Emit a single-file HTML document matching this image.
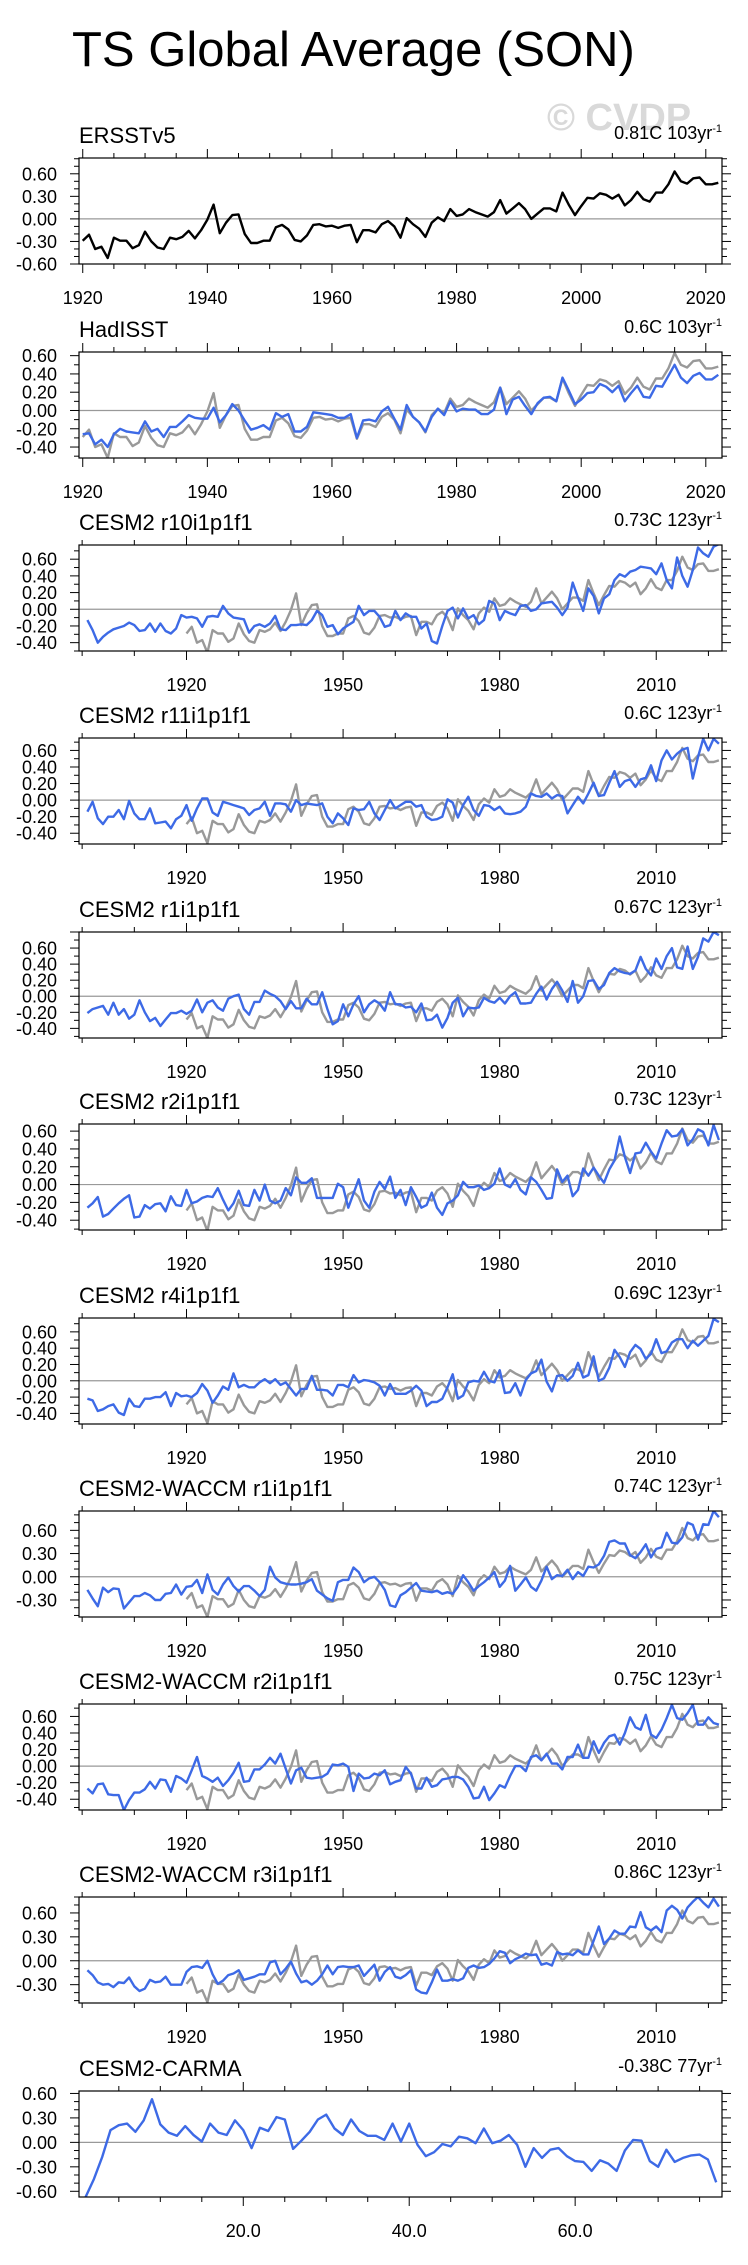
<!DOCTYPE html>
<html><head><meta charset="utf-8"><title>TS Global Average (SON)</title>
<style>html,body{margin:0;padding:0;background:#fff}svg{display:block}text{font-family:"Liberation Sans",Arial,sans-serif}</style>
</head><body>
<svg id="chart" xmlns="http://www.w3.org/2000/svg" width="748" height="2265" viewBox="0 0 748 2265">
<rect x="0" y="0" width="748" height="2265" fill="#fff"/>
<text x="72" y="66" font-size="49" fill="#000">TS Global Average (SON)</text>
<text x="547" y="130" font-size="38" font-weight="bold" fill="#d9d9d9">© CVDP</text>
</svg>
<script>
const ersst = [-0.29,-0.21,-0.40,-0.37,-0.52,-0.25,-0.29,-0.29,-0.39,-0.35,
-0.17,-0.30,-0.38,-0.40,-0.25,-0.27,-0.24,-0.16,-0.26,-0.15,
-0.01,0.19,-0.19,-0.05,0.05,0.06,-0.20,-0.32,-0.32,-0.29,
-0.29,-0.11,-0.08,-0.14,-0.28,-0.30,-0.22,-0.08,-0.07,-0.10,
-0.09,-0.12,-0.09,-0.08,-0.31,-0.15,-0.15,-0.18,-0.07,-0.03,
-0.10,-0.25,0.01,-0.07,-0.13,-0.24,-0.05,0.02,-0.03,0.13,
0.04,0.06,0.13,0.09,0.06,0.03,0.09,0.25,0.07,0.14,
0.21,0.13,0.00,0.07,0.14,0.14,0.10,0.35,0.19,0.05,
0.17,0.28,0.27,0.34,0.32,0.27,0.32,0.18,0.25,0.36,
0.26,0.23,0.35,0.35,0.46,0.63,0.50,0.47,0.54,0.55,
0.46,0.46,0.48];
const hadisst = [-0.26,-0.25,-0.37,-0.32,-0.40,-0.26,-0.20,-0.23,-0.24,-0.25,
-0.12,-0.23,-0.20,-0.29,-0.18,-0.18,-0.12,-0.05,-0.08,-0.09,
-0.09,0.03,-0.13,-0.05,0.07,0.00,-0.11,-0.21,-0.19,-0.16,
-0.21,-0.03,-0.07,-0.04,-0.23,-0.23,-0.18,-0.02,-0.03,-0.04,
-0.05,-0.08,-0.08,-0.04,-0.30,-0.11,-0.10,-0.12,-0.01,0.04,
-0.09,-0.21,0.06,-0.07,-0.13,-0.23,-0.07,0.02,-0.05,0.10,
-0.01,0.02,0.01,0.01,-0.04,-0.04,0.01,0.25,-0.04,0.12,
0.15,0.05,-0.04,0.08,0.14,0.15,0.10,0.36,0.22,0.07,
0.12,0.19,0.20,0.29,0.26,0.20,0.27,0.10,0.19,0.27,
0.15,0.14,0.27,0.26,0.38,0.50,0.36,0.30,0.38,0.41,
0.34,0.34,0.39];
const cesmR10 = [-0.13,-0.25,-0.40,-0.33,-0.28,-0.24,-0.22,-0.20,-0.16,-0.19,
-0.26,-0.25,-0.17,-0.27,-0.17,-0.26,-0.29,-0.23,-0.07,-0.10,
-0.09,-0.11,-0.21,-0.09,-0.08,-0.09,0.04,-0.05,-0.10,-0.11,
-0.12,-0.28,-0.20,-0.18,-0.21,-0.17,-0.08,-0.24,-0.25,-0.19,
-0.19,-0.18,-0.19,-0.13,-0.02,-0.07,-0.21,-0.19,-0.30,-0.23,
-0.19,-0.15,0.04,-0.07,-0.02,-0.02,-0.09,-0.21,-0.19,-0.02,
-0.13,-0.05,-0.09,-0.09,-0.23,-0.17,-0.38,-0.41,-0.20,-0.02,
0.02,-0.11,0.01,-0.11,-0.07,-0.18,-0.13,0.10,0.07,-0.13,
-0.02,-0.05,-0.07,0.04,0.05,-0.02,0.00,0.07,0.08,0.09,
0.02,-0.07,0.02,0.32,0.14,-0.02,0.25,0.16,-0.05,0.13,
0.18,0.35,0.42,0.39,0.45,0.47,0.51,0.50,0.49,0.42,
0.55,0.35,0.25,0.62,0.40,0.27,0.47,0.74,0.67,0.63,
0.75,0.78];
const cesmR11 = [-0.14,-0.02,-0.22,-0.29,-0.20,-0.20,-0.12,-0.23,-0.01,-0.16,
-0.23,-0.23,-0.10,-0.28,-0.27,-0.26,-0.34,-0.23,-0.19,-0.06,
-0.25,-0.10,0.02,0.02,-0.15,-0.19,-0.02,-0.04,-0.06,-0.08,
-0.10,-0.18,-0.12,-0.10,-0.02,-0.19,-0.04,-0.04,-0.05,-0.14,
0.00,-0.06,-0.04,-0.05,-0.06,-0.04,-0.20,-0.28,-0.16,-0.22,
-0.30,-0.10,-0.12,-0.11,-0.02,-0.16,-0.24,-0.12,0.00,-0.10,
-0.06,-0.02,-0.02,-0.08,-0.06,-0.20,-0.24,-0.23,-0.20,0.01,
-0.03,-0.21,-0.06,0.04,-0.12,-0.19,-0.06,-0.07,-0.12,-0.08,
-0.16,-0.17,-0.16,-0.14,-0.08,0.08,0.05,0.04,0.08,0.02,
0.06,0.05,-0.16,-0.06,0.04,-0.04,0.08,0.21,0.05,0.06,
0.21,0.35,0.16,0.23,0.25,0.16,0.25,0.27,0.42,0.23,
0.48,0.60,0.49,0.56,0.61,0.63,0.26,0.52,0.74,0.60,
0.74,0.68];
const cesmR1 = [-0.21,-0.16,-0.14,-0.12,-0.23,-0.08,-0.23,-0.16,-0.28,-0.23,
-0.05,-0.20,-0.31,-0.27,-0.37,-0.29,-0.21,-0.21,-0.18,-0.22,
-0.18,-0.04,-0.20,-0.08,-0.05,-0.14,-0.18,-0.03,0.00,0.02,
-0.16,-0.23,-0.07,-0.07,0.07,0.03,0.00,-0.06,-0.16,-0.06,
-0.15,-0.15,-0.03,-0.10,-0.10,0.05,-0.16,-0.35,-0.31,-0.10,
-0.25,-0.10,0.00,-0.20,-0.10,-0.05,-0.09,-0.18,0.05,-0.10,
-0.10,-0.14,-0.13,-0.20,-0.09,-0.30,-0.29,-0.23,-0.39,-0.27,
-0.08,-0.02,-0.25,-0.14,-0.15,-0.14,-0.02,-0.06,-0.08,-0.02,
-0.09,0.00,0.05,-0.09,-0.09,-0.08,0.03,0.12,-0.04,0.09,
0.18,0.07,-0.07,0.19,-0.08,0.00,0.19,0.20,0.09,0.14,
0.29,0.35,0.31,0.29,0.28,0.32,0.49,0.34,0.26,0.47,
0.34,0.50,0.60,0.36,0.34,0.62,0.34,0.49,0.72,0.68,
0.80,0.76];
const cesmR2 = [-0.26,-0.21,-0.14,-0.36,-0.33,-0.27,-0.21,-0.16,-0.12,-0.37,
-0.36,-0.23,-0.27,-0.22,-0.21,-0.30,-0.13,-0.23,-0.24,-0.06,
-0.21,-0.19,-0.15,-0.13,-0.14,-0.04,-0.17,-0.29,-0.21,-0.07,
-0.23,-0.24,-0.06,-0.18,0.00,-0.18,-0.21,-0.18,-0.04,-0.12,
0.08,0.02,0.02,0.07,-0.15,-0.15,-0.15,-0.15,0.01,-0.03,
-0.26,-0.10,0.06,-0.18,-0.26,-0.08,0.03,-0.05,0.09,-0.15,
-0.06,-0.23,-0.03,-0.14,-0.26,-0.23,-0.09,-0.26,-0.34,-0.21,
-0.18,-0.12,0.03,-0.03,-0.03,-0.01,-0.06,-0.04,0.01,0.18,
0.00,-0.03,0.06,-0.06,-0.11,0.08,0.03,-0.06,-0.16,-0.15,
0.17,0.03,0.10,-0.13,-0.06,0.18,0.10,0.19,0.10,0.02,
0.17,0.27,0.54,0.31,0.13,0.35,0.36,0.47,0.37,0.29,
0.46,0.61,0.54,0.55,0.62,0.44,0.51,0.62,0.59,0.44,
0.67,0.50];
const cesmR4 = [-0.22,-0.24,-0.37,-0.35,-0.31,-0.29,-0.39,-0.42,-0.22,-0.31,
-0.32,-0.22,-0.22,-0.20,-0.20,-0.14,-0.31,-0.15,-0.19,-0.18,
-0.20,-0.15,-0.04,-0.12,-0.27,-0.18,-0.07,-0.11,0.09,-0.08,
-0.05,-0.08,-0.08,-0.02,0.02,-0.03,0.02,-0.05,-0.02,-0.10,
-0.18,-0.10,-0.10,0.06,-0.11,-0.11,-0.12,-0.18,-0.05,-0.05,
-0.08,0.07,-0.02,0.01,0.00,-0.02,-0.06,-0.18,-0.04,-0.16,
-0.16,-0.16,-0.12,-0.06,-0.12,-0.31,-0.26,-0.26,-0.22,-0.08,
0.08,-0.22,-0.18,-0.02,0.00,-0.01,0.11,0.00,-0.02,0.13,
-0.15,-0.14,-0.03,-0.18,0.01,0.09,0.12,0.26,-0.01,-0.13,
0.06,0.07,0.00,0.06,0.22,0.04,0.07,0.30,0.00,0.03,
0.16,0.38,0.29,0.17,0.35,0.44,0.39,0.27,0.33,0.51,
0.34,0.36,0.47,0.51,0.51,0.40,0.49,0.43,0.49,0.55,
0.76,0.72];
const waccmR1 = [-0.17,-0.28,-0.38,-0.14,-0.20,-0.15,-0.16,-0.41,-0.33,-0.25,
-0.25,-0.21,-0.24,-0.30,-0.30,-0.22,-0.21,-0.10,-0.23,-0.13,
-0.12,-0.04,-0.21,0.03,-0.17,-0.23,-0.10,-0.01,-0.12,-0.19,
-0.12,-0.12,-0.18,-0.25,-0.17,0.13,-0.01,-0.07,-0.09,-0.10,
-0.10,-0.09,-0.07,-0.03,-0.18,-0.23,-0.28,-0.31,-0.07,-0.04,
-0.04,0.12,0.06,-0.07,-0.02,0.00,-0.07,-0.17,-0.37,-0.39,
-0.24,-0.20,-0.14,-0.08,-0.18,-0.19,-0.20,-0.18,-0.22,-0.20,
-0.22,-0.13,0.02,-0.07,-0.18,-0.12,-0.07,-0.01,0.06,-0.13,
-0.05,0.14,-0.18,-0.10,-0.01,-0.13,-0.18,-0.05,0.13,-0.03,
0.02,0.01,0.09,-0.03,0.06,0.01,0.13,0.12,0.16,0.27,
0.45,0.47,0.43,0.43,0.28,0.24,0.32,0.42,0.25,0.36,
0.38,0.57,0.44,0.43,0.51,0.70,0.67,0.48,0.68,0.67,
0.85,0.77];
const waccmR2 = [-0.27,-0.33,-0.22,-0.21,-0.34,-0.35,-0.35,-0.53,-0.41,-0.32,
-0.32,-0.28,-0.19,-0.27,-0.16,-0.17,-0.31,-0.12,-0.15,-0.20,
-0.05,0.11,-0.12,-0.15,-0.19,-0.14,-0.24,-0.17,-0.08,0.04,
-0.19,-0.18,-0.04,-0.04,0.02,0.10,0.03,0.15,-0.03,-0.21,
-0.05,-0.02,-0.14,-0.15,-0.14,-0.13,-0.09,0.02,0.01,0.03,
-0.01,-0.30,-0.09,-0.15,-0.14,-0.09,-0.11,-0.05,-0.22,-0.19,
-0.17,-0.01,-0.09,-0.27,-0.27,-0.14,-0.25,-0.23,-0.16,-0.15,
-0.13,-0.13,-0.16,-0.25,-0.39,-0.38,-0.25,-0.41,-0.33,-0.23,
-0.26,-0.12,0.00,0.00,-0.06,0.11,0.13,0.07,0.15,0.03,
0.03,-0.04,0.11,0.11,0.26,0.10,0.10,0.30,0.16,0.28,
0.36,0.38,0.26,0.40,0.59,0.47,0.44,0.62,0.38,0.34,
0.44,0.58,0.74,0.58,0.56,0.64,0.74,0.50,0.50,0.59,
0.52,0.50];
const waccmR3 = [-0.12,-0.18,-0.27,-0.30,-0.29,-0.33,-0.27,-0.28,-0.21,-0.32,
-0.38,-0.35,-0.24,-0.27,-0.26,-0.20,-0.30,-0.30,-0.30,-0.14,
-0.08,-0.07,-0.09,0.00,-0.17,-0.29,-0.25,-0.18,-0.16,-0.12,
-0.24,-0.22,-0.20,-0.17,-0.17,-0.02,0.00,-0.17,-0.10,-0.01,
-0.16,-0.27,-0.25,-0.30,-0.25,-0.17,-0.06,-0.17,-0.08,-0.07,
-0.08,-0.08,-0.06,-0.19,-0.12,-0.05,-0.25,-0.14,-0.08,-0.20,
-0.22,-0.18,-0.12,-0.36,-0.40,-0.41,-0.27,-0.11,-0.25,-0.25,
-0.23,-0.25,-0.22,-0.09,-0.06,-0.09,-0.08,-0.04,0.03,0.12,
0.10,-0.03,0.02,0.05,0.09,0.07,0.08,-0.05,-0.03,-0.06,
0.11,0.08,0.09,0.07,0.13,0.08,0.08,0.25,0.43,0.21,
0.28,0.38,0.34,0.34,0.43,0.42,0.61,0.42,0.38,0.43,
0.36,0.63,0.69,0.64,0.53,0.67,0.74,0.80,0.73,0.67,
0.78,0.68];
const carma = [-0.67,-0.45,-0.18,0.15,0.21,0.23,0.13,0.27,0.53,0.22,
0.12,0.08,0.20,0.09,0.01,0.23,0.12,0.09,0.27,0.15,
-0.07,0.18,0.14,0.31,0.28,-0.08,0.02,0.13,0.28,0.34,
0.17,0.09,0.28,0.14,0.08,0.08,0.03,0.23,0.01,0.23,
-0.03,-0.17,-0.12,-0.02,-0.05,0.07,0.05,-0.01,0.17,-0.01,
0.02,0.09,-0.03,-0.30,-0.07,-0.19,-0.09,-0.07,-0.17,-0.23,
-0.24,-0.35,-0.22,-0.26,-0.35,-0.10,0.03,0.02,-0.23,-0.30,
-0.09,-0.24,-0.19,-0.16,-0.15,-0.21,-0.49];
const panelTitles = ["ERSSTv5","HadISST","CESM2 r10i1p1f1","CESM2 r11i1p1f1","CESM2 r1i1p1f1","CESM2 r2i1p1f1","CESM2 r4i1p1f1","CESM2-WACCM r1i1p1f1","CESM2-WACCM r2i1p1f1","CESM2-WACCM r3i1p1f1","CESM2-CARMA"];
const trendLabels = ["0.81C 103yr","0.6C 103yr","0.73C 123yr","0.6C 123yr","0.67C 123yr","0.73C 123yr","0.69C 123yr","0.74C 123yr","0.75C 123yr","0.86C 123yr","-0.38C 77yr"];
const yMins = [-0.6,-0.52,-0.50,-0.53,-0.52,-0.51,-0.53,-0.52,-0.53,-0.53,-0.67];
const yMaxs = [0.81,0.64,0.77,0.75,0.80,0.68,0.77,0.85,0.75,0.80,0.63];
const yLabelMin = [-0.6,-0.4,-0.4,-0.4,-0.4,-0.4,-0.4,-0.3,-0.4,-0.3,-0.6];
const yLabelStep = [0.3,0.2,0.2,0.2,0.2,0.2,0.2,0.3,0.2,0.3,0.3];
const obsTicks = [1920,1940,1960,1980,2000,2020];
const modelTicks = [1920,1950,1980,2010];
const carmaTicks = [20,40,60];

const NS="http://www.w3.org/2000/svg";
const svg=document.getElementById('chart');
function mk(tag,attrs,parent){const e=document.createElementNS(NS,tag);for(const k in attrs)e.setAttribute(k,attrs[k]);(parent||svg).appendChild(e);return e;}
const L=79,R=722,H=106;
const tops=[158,352,545,738,932,1124,1318,1511,1704,1897,2091];
const blues=[null,hadisst,cesmR10,cesmR11,cesmR1,cesmR2,cesmR4,waccmR1,waccmR2,waccmR3,carma];
for(let p=0;p<11;p++){
  const T=tops[p],B=T+H;
  const g=mk('g',{});
  
  
  let xmin,xmax,majors,minorStep,fmt;
  if(p<2){xmin=1919.4;xmax=2022.6;majors=obsTicks;minorStep=5;fmt=v=>String(v);}
  else if(p<10){xmin=1899.4;xmax=2022.6;majors=modelTicks;minorStep=10;fmt=v=>String(v);}
  else{xmin=0.2;xmax=77.7;majors=carmaTicks;minorStep=5;fmt=v=>v.toFixed(1);}
  const ymin=yMins[p],ymax=yMaxs[p];
  const xs=v=>L+(v-xmin)/(xmax-xmin)*(R-L);
  const ys=v=>B-(v-ymin)/(ymax-ymin)*H;
  const t=mk('text',{x:L,y:T-15,'font-size':22},g);t.textContent=panelTitles[p];
  
  
  const tr=mk('text',{x:R,y:T-19,'font-size':18,'text-anchor':'end'},g);
  tr.appendChild(document.createTextNode(trendLabels[p]));
  const sup=mk('tspan',{dy:-7,'font-size':11},tr);sup.textContent='-1';
  
  
  const start=Math.ceil(xmin/minorStep)*minorStep;
  for(let v=start;v<=xmax;v+=minorStep){
    const isMaj=majors.indexOf(v)>=0;const len=isMaj?9:5;const x=xs(v);
    const t1=mk('line',{x1:x,x2:x,y1:T,y2:T-len,stroke:'#000','stroke-width':1},g);
    
    
    const t2=mk('line',{x1:x,x2:x,y1:B,y2:B+len,stroke:'#000','stroke-width':1},g);
    
    
  }
  majors.forEach(v=>{const lb=mk('text',{x:xs(v),y:B+40,'font-size':18,'text-anchor':'middle'},g);lb.textContent=fmt(v);
    
    });
  const ms=Math.ceil(ymin*10-1e-6);
  for(let k=ms;k/10<=ymax+1e-6;k++){
    const v=k/10;const y=ys(v);
    const rel=Math.round((v-yLabelMin[p])/yLabelStep[p]*1000)/1000;
    const isMaj=Math.abs(rel-Math.round(rel))<1e-6&&v>=yLabelMin[p]-1e-6;
    const len=isMaj?9:5;
    const a=mk('line',{x1:L,x2:L-len,y1:y,y2:y,stroke:'#000','stroke-width':1},g);
    
    
    const b=mk('line',{x1:R,x2:R+len,y1:y,y2:y,stroke:'#000','stroke-width':1},g);
    
    
    if(isMaj&&v<=0.6+1e-6){const lb=mk('text',{x:57,y:y+6.5,'font-size':18,'text-anchor':'end'},g);lb.textContent=v.toFixed(2);
      
      }
  }
  const cid='clip'+p;const cp=mk('clipPath',{id:cid},g);mk('rect',{x:L,y:T,width:R-L,height:H},cp);
  const z=mk('line',{x1:L,x2:R,y1:ys(0),y2:ys(0),stroke:'#999','stroke-width':1.2},g);
  
  
  function draw(arr,x0,color,name){
    let d='';arr.forEach((v,i)=>{d+=(i?'L':'M')+xs(x0+i).toFixed(1)+','+ys(v).toFixed(1);});
    const pth=mk('path',{d:d,fill:'none',stroke:color,'stroke-width':2.4,'stroke-linejoin':'round','clip-path':'url(#'+cid+')'},g);
    
    
  }
  if(p===0){draw(ersst,1920,'#000','ersst-line');}
  else if(p===1){draw(ersst,1920,'#999','ersst-line');draw(hadisst,1920,'#3d6ae6','hadisst-line');}
  else if(p<10){draw(ersst,1920,'#999','observed-line');draw(blues[p],1901,'#3d6ae6','model-line');}
  else{draw(carma,1,'#3d6ae6','model-line');}
  const box=mk('rect',{x:L,y:T,width:R-L,height:H,fill:'none',stroke:'#000','stroke-width':1.2},g);
  
  
}
</script>
</body></html>
